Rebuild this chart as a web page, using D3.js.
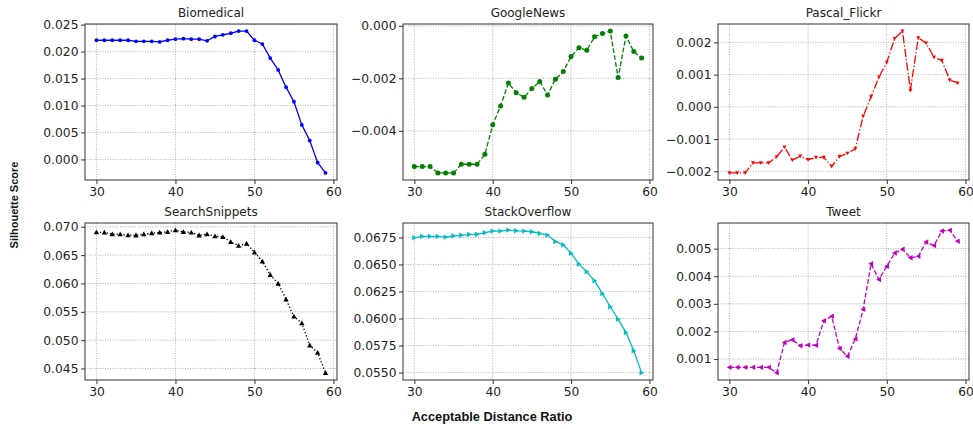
<!DOCTYPE html>
<html>
<head>
<meta charset="utf-8">
<script src="https://cdn.jsdelivr.net/npm/d3@7"></script>
<style>
  html, body { margin: 0; padding: 0; background: #fff; }
  svg { display: block; }
</style>
</head>
<body>
<svg id="chart" width="973" height="429"></svg>
<script>
// ---------------- DATA ----------------
const xValues = d3.range(30, 60); // 30..59
const xTicks = [30, 40, 50, 60];

const titles = ["Biomedical", "GoogleNews", "Pascal_Flickr", "SearchSnippets", "StackOverflow", "Tweet"];

const biomedical = [0.0221, 0.0221, 0.0221, 0.0221, 0.0221, 0.0219, 0.0219, 0.0219, 0.0218, 0.0221,
  0.0223, 0.0224, 0.0223, 0.0223, 0.0220, 0.0228, 0.0231, 0.0234, 0.0238, 0.0238,
  0.0221, 0.0214, 0.0188, 0.0166, 0.0134, 0.0107, 0.0064, 0.0035, -0.0006, -0.0025];

const googleNews = [-0.00536, -0.00536, -0.00536, -0.00560, -0.00560, -0.00560, -0.00527, -0.00527, -0.00527, -0.00489,
  -0.00377, -0.00305, -0.00218, -0.00255, -0.00272, -0.00239, -0.00212, -0.00263, -0.00203, -0.00174,
  -0.00117, -0.00083, -0.00093, -0.00042, -0.00029, -0.00020, -0.00197, -0.00039, -0.00098, -0.00122];

const pascalFlickr = [-0.00205, -0.00205, -0.00205, -0.00174, -0.00174, -0.00174, -0.00155, -0.00125, -0.00165, -0.00153,
  -0.00164, -0.00157, -0.00157, -0.00185, -0.00154, -0.00144, -0.00130, -0.00029, 0.00031, 0.00092,
  0.00138, 0.00212, 0.00235, 0.00051, 0.00214, 0.00198, 0.00154, 0.00144, 0.00083, 0.00074];

const searchSnippets = [0.06905, 0.06900, 0.06870, 0.06870, 0.06852, 0.06850, 0.06870, 0.06887, 0.06900, 0.06910,
  0.06941, 0.06910, 0.06900, 0.06850, 0.06870, 0.06834, 0.06822, 0.06733, 0.06668, 0.06704,
  0.06550, 0.06390, 0.06153, 0.06000, 0.05720, 0.05418, 0.05300, 0.04909, 0.04779, 0.04423];

const stackOverflow = [0.06747, 0.06760, 0.06760, 0.06760, 0.06753, 0.06766, 0.06770, 0.06778, 0.06778, 0.06794,
  0.06809, 0.06809, 0.06818, 0.06812, 0.06809, 0.06803, 0.06787, 0.06772, 0.06713, 0.06682,
  0.06604, 0.06503, 0.06433, 0.06349, 0.06230, 0.06109, 0.05994, 0.05870, 0.05702, 0.05497];

const tweet = [0.00070, 0.00070, 0.00070, 0.00070, 0.00070, 0.00070, 0.00050, 0.00160, 0.00170, 0.00148,
  0.00151, 0.00150, 0.00239, 0.00255, 0.00138, 0.00110, 0.00173, 0.00280, 0.00445, 0.00388,
  0.00436, 0.00484, 0.00498, 0.00467, 0.00472, 0.00524, 0.00511, 0.00564, 0.00567, 0.00527];

const yTicks = [
  [0.000, 0.005, 0.010, 0.015, 0.020, 0.025],
  [-0.004, -0.002, 0.000],
  [-0.002, -0.001, 0.000, 0.001, 0.002],
  [0.045, 0.050, 0.055, 0.060, 0.065, 0.070],
  [0.0550, 0.0575, 0.0600, 0.0625, 0.0650, 0.0675],
  [0.001, 0.002, 0.003, 0.004, 0.005]
];
const yFormats = [".3f", ".3f", ".3f", ".3f", ".4f", ".3f"];

const xLabel = "Acceptable Distance Ratio";
const yLabel = "Silhouette Score";

// ---------------- STYLE / LAYOUT ----------------
const series = [biomedical, googleNews, pascalFlickr, searchSnippets, stackOverflow, tweet];
const colors = ["#0000ff", "#008000", "#ff0000", "#000000", "#00bfbf", "#bf00bf"];
const dashes = [null, "4.8,2.1", "8.3,2.1,1.3,2.1", "1.3,2.1", null, "4.8,2.1"];
const markers = ["dot", "circle", "tri", "up", "right", "left"];

const cols = [[85, 337], [403, 653], [718, 969]];
const rows = [[24, 180], [223, 380]];

const svg = d3.select("#chart");
const tickFont = "'DejaVu Sans', sans-serif";

function drawMarker(g, type, x, y, color) {
  if (type === "dot") {
    g.append("circle").attr("cx", x).attr("cy", y).attr("r", 1.9).attr("fill", color);
  } else if (type === "circle") {
    g.append("circle").attr("cx", x).attr("cy", y).attr("r", 2.5).attr("fill", color);
  } else {
    const s = type === "tri" ? 2.0 : 2.7;
    let pts;
    if (type === "up") pts = [[0, -s], [s, s * 0.8], [-s, s * 0.8]];
    else if (type === "right") pts = [[s, 0], [-s * 0.8, -s], [-s * 0.8, s]];
    else if (type === "left") pts = [[-s, 0], [s * 0.8, -s], [s * 0.8, s]];
    else pts = [[0, s], [s, -s * 0.8], [-s, -s * 0.8]];
    g.append("path")
      .attr("d", "M" + pts.map(p => (x + p[0]) + "," + (y + p[1])).join("L") + "Z")
      .attr("fill", color);
  }
}

series.forEach((vals, i) => {
  const [x0, x1] = cols[i % 3];
  const [y0, y1] = rows[Math.floor(i / 3)];

  const xs = d3.scaleLinear().domain([28.55, 60.45]).range([x0, x1]);
  const [mn, mx] = d3.extent(vals);
  const pad = (mx - mn) * 0.05;
  const ys = d3.scaleLinear().domain([mn - pad, mx + pad]).range([y1, y0]);

  const g = svg.append("g");

  // grid
  const grid = g.append("g").attr("stroke", "#a0a0a0").attr("stroke-width", 0.8)
    .attr("stroke-dasharray", "1,1.5");
  xTicks.forEach(t => {
    const px = xs(t);
    if (px >= x0 && px <= x1)
      grid.append("line").attr("x1", px).attr("x2", px).attr("y1", y0).attr("y2", y1);
  });
  yTicks[i].forEach(t => {
    grid.append("line").attr("x1", x0).attr("x2", x1).attr("y1", ys(t)).attr("y2", ys(t));
  });

  // line
  const pts = xValues.map((x, k) => [x, vals[k]]);
  const line = d3.line().x(d => xs(d[0])).y(d => ys(d[1]));
  g.append("path").datum(pts)
    .attr("d", line)
    .attr("fill", "none")
    .attr("stroke", colors[i])
    .attr("stroke-width", 1.3)
    .attr("stroke-dasharray", dashes[i]);

  const mg = g.append("g");
  pts.forEach(d => drawMarker(mg, markers[i], xs(d[0]), ys(d[1]), colors[i]));

  // frame
  g.append("rect").attr("x", x0).attr("y", y0).attr("width", x1 - x0).attr("height", y1 - y0)
    .attr("fill", "none").attr("stroke", "#333").attr("stroke-width", 1);

  // axes
  const xa = g.append("g").attr("transform", `translate(0,${y1})`)
    .call(d3.axisBottom(xs).tickValues(xTicks).tickSize(4).tickPadding(3).tickFormat(d3.format("d")));
  const ya = g.append("g").attr("transform", `translate(${x0},0)`)
    .call(d3.axisLeft(ys).tickValues(yTicks[i]).tickSize(4).tickPadding(2.5).tickFormat(d3.format(yFormats[i])));
  [xa, ya].forEach(a => {
    a.select(".domain").remove();
    a.selectAll(".tick line").attr("stroke", "#333");
    a.selectAll(".tick text").attr("fill", "#222").style("font-family", tickFont).style("font-size", "12.3px");
  });

  // title
  g.append("text").attr("x", (x0 + x1) / 2).attr("y", y0 - 7)
    .attr("text-anchor", "middle").attr("fill", "#222")
    .style("font-family", tickFont).style("font-size", "12px")
    .text(titles[i]);
});

// figure labels
svg.append("text").attr("x", 492).attr("y", 421).attr("text-anchor", "middle")
  .attr("fill", "#111").style("font-family", "'Liberation Sans', Arial, sans-serif")
  .style("font-weight", "bold").style("font-size", "12.8px").text(xLabel);

svg.append("text").attr("transform", "translate(18,205) rotate(-90)").attr("text-anchor", "middle")
  .attr("fill", "#111").style("font-family", "'Liberation Sans', Arial, sans-serif")
  .style("font-weight", "bold").style("font-size", "11px").text(yLabel);
</script>
</body>
</html>
